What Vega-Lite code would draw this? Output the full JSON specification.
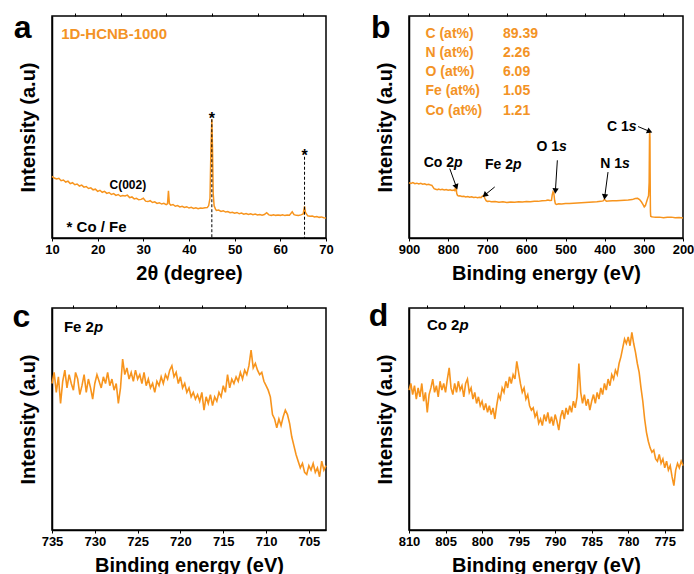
{
"$schema": "https://vega.github.io/schema/vega-lite/v6.json",
"background": "white",
"padding": {"left": 11, "top": 11, "right": 10, "bottom": 5},
"columns": 2,
"spacing": {"row": 70, "column": 83},
"bounds": "flush",
"datasets": {
"one": [{}],
"xrd": [
{"x":10,"y":27.8},{"x":10.5,"y":27.0},{"x":11,"y":26.6},{"x":11.5,"y":26.9},{"x":12,"y":25.8},{"x":12.5,"y":26.1},{"x":13,"y":25.2},{"x":13.5,"y":25.6},{"x":14,"y":24.5},{"x":14.5,"y":24.9},{"x":15,"y":24.0},{"x":15.5,"y":24.3},{"x":16,"y":23.4},{"x":16.5,"y":23.8},{"x":17,"y":22.9},{"x":17.5,"y":23.2},{"x":18,"y":22.3},{"x":18.5,"y":22.6},{"x":19,"y":21.7},{"x":19.5,"y":22.0},{"x":20,"y":21.0},{"x":20.5,"y":21.5},{"x":21,"y":20.6},{"x":21.5,"y":21.0},{"x":22,"y":20.1},{"x":22.5,"y":20.5},{"x":23,"y":19.6},{"x":23.5,"y":20.0},{"x":24,"y":19.2},{"x":24.5,"y":19.6},{"x":25,"y":18.8},{"x":25.5,"y":19.1},{"x":26,"y":18.9},{"x":26.5,"y":19.3},{"x":27,"y":18.2},{"x":27.5,"y":18.5},{"x":28,"y":17.6},{"x":28.5,"y":17.9},{"x":29,"y":17.2},{"x":29.5,"y":17.4},{"x":30,"y":17.9},{"x":30.5,"y":16.6},{"x":31,"y":16.4},{"x":31.5,"y":16.8},{"x":32,"y":16.0},{"x":32.5,"y":16.3},{"x":33,"y":15.6},{"x":33.5,"y":15.9},{"x":34,"y":15.3},{"x":34.5,"y":15.6},{"x":35,"y":15.0},{"x":35.3,"y":15.4},{"x":35.5,"y":21.3},{"x":35.7,"y":15.6},{"x":36,"y":14.8},{"x":36.5,"y":15.1},{"x":37,"y":14.3},{"x":37.5,"y":14.6},{"x":38,"y":14.0},{"x":38.5,"y":14.3},{"x":39,"y":13.8},{"x":39.5,"y":14.1},{"x":40,"y":13.5},{"x":40.5,"y":13.8},{"x":41,"y":13.3},{"x":41.5,"y":13.6},{"x":42,"y":13.2},{"x":42.5,"y":13.5},{"x":43,"y":13.4},{"x":43.5,"y":13.6},{"x":44,"y":13.7},{"x":44.3,"y":14.5},{"x":44.6,"y":18},{"x":44.8,"y":40},{"x":45.0,"y":53.5},{"x":45.15,"y":40},{"x":45.3,"y":20},{"x":45.5,"y":14.5},{"x":45.8,"y":13.0},{"x":46,"y":12.4},{"x":46.5,"y":12.6},{"x":47,"y":12.0},{"x":47.5,"y":12.3},{"x":48,"y":11.7},{"x":48.5,"y":11.9},{"x":49,"y":11.4},{"x":49.5,"y":11.6},{"x":50,"y":11.2},{"x":50.5,"y":11.5},{"x":51,"y":10.9},{"x":51.5,"y":11.2},{"x":52,"y":10.7},{"x":52.5,"y":11.0},{"x":53,"y":10.6},{"x":53.5,"y":10.9},{"x":54,"y":10.5},{"x":54.5,"y":10.8},{"x":55,"y":10.4},{"x":55.5,"y":10.6},{"x":56,"y":10.3},{"x":56.5,"y":10.6},{"x":57,"y":11.4},{"x":57.5,"y":10.4},{"x":58,"y":10.2},{"x":58.5,"y":10.5},{"x":59,"y":10.2},{"x":59.5,"y":10.4},{"x":60,"y":10.2},{"x":60.5,"y":10.5},{"x":61,"y":10.1},{"x":61.5,"y":10.4},{"x":62,"y":10.3},{"x":62.6,"y":11.8},{"x":63,"y":10.5},{"x":63.5,"y":10.2},{"x":64,"y":10.1},{"x":64.5,"y":10.4},{"x":65,"y":10.8},{"x":65.15,"y":12.5},{"x":65.3,"y":14.2},{"x":65.5,"y":11.5},{"x":66,"y":10.0},{"x":66.5,"y":9.8},{"x":67,"y":9.9},{"x":67.5,"y":9.5},{"x":68,"y":9.7},{"x":68.5,"y":9.3},{"x":69,"y":9.5},{"x":69.5,"y":9.1},{"x":70,"y":9.0}
],
"survey": [
{"x":900,"y":24.9},{"x":895,"y":24.6},{"x":890,"y":25.0},{"x":885,"y":24.5},{"x":880,"y":24.7},{"x":875,"y":24.3},{"x":870,"y":24.6},{"x":865,"y":24.2},{"x":860,"y":24.4},{"x":855,"y":24.0},{"x":850,"y":24.2},{"x":845,"y":23.9},{"x":842,"y":23.8},{"x":839,"y":23.0},{"x":836,"y":22.2},{"x":832,"y":22.0},{"x":828,"y":21.8},{"x":824,"y":22.0},{"x":820,"y":21.7},{"x":815,"y":21.9},{"x":810,"y":21.6},{"x":805,"y":21.8},{"x":800,"y":21.5},{"x":795,"y":21.7},{"x":790,"y":21.4},{"x":786,"y":21.6},{"x":783,"y":21.3},{"x":781,"y":22.9},{"x":779.5,"y":22.5},{"x":778,"y":20.0},{"x":776,"y":19.2},{"x":773,"y":18.9},{"x":770,"y":19.0},{"x":765,"y":18.7},{"x":760,"y":18.8},{"x":755,"y":18.5},{"x":750,"y":18.7},{"x":745,"y":18.4},{"x":740,"y":18.6},{"x":735,"y":18.3},{"x":730,"y":18.4},{"x":725,"y":18.1},{"x":720,"y":18.3},{"x":716,"y":18.2},{"x":712,"y":18.9},{"x":709,"y":19.0},{"x":706,"y":17.8},{"x":703,"y":16.8},{"x":700,"y":16.5},{"x":695,"y":16.6},{"x":690,"y":16.3},{"x":680,"y":16.4},{"x":670,"y":16.1},{"x":660,"y":16.3},{"x":650,"y":16.0},{"x":640,"y":16.2},{"x":630,"y":16.1},{"x":620,"y":16.3},{"x":610,"y":16.2},{"x":600,"y":16.4},{"x":590,"y":16.3},{"x":580,"y":16.6},{"x":570,"y":16.5},{"x":560,"y":16.8},{"x":550,"y":16.9},{"x":545,"y":17.1},{"x":540,"y":16.9},{"x":536,"y":17.0},{"x":534,"y":19.5},{"x":532,"y":20.8},{"x":530,"y":20.3},{"x":528,"y":17.0},{"x":526,"y":15.4},{"x":523,"y":15.1},{"x":518,"y":15.4},{"x":510,"y":15.3},{"x":500,"y":15.5},{"x":490,"y":15.5},{"x":480,"y":15.7},{"x":470,"y":15.8},{"x":460,"y":15.9},{"x":450,"y":16.0},{"x":440,"y":16.1},{"x":430,"y":16.2},{"x":420,"y":16.3},{"x":410,"y":16.5},{"x":404,"y":16.7},{"x":401,"y":17.4},{"x":399,"y":17.1},{"x":396,"y":16.6},{"x":390,"y":16.7},{"x":380,"y":16.8},{"x":370,"y":16.8},{"x":360,"y":16.9},{"x":350,"y":17.0},{"x":340,"y":17.1},{"x":330,"y":17.3},{"x":322,"y":17.8},{"x":316,"y":17.9},{"x":311,"y":17.3},{"x":306,"y":16.2},{"x":302,"y":15.0},{"x":299,"y":14.0},{"x":296,"y":14.6},{"x":293,"y":16.3},{"x":290,"y":18.0},{"x":288,"y":19.0},{"x":286.5,"y":25},{"x":285.5,"y":46},{"x":285,"y":48.2},{"x":284.4,"y":45},{"x":284,"y":30},{"x":283.6,"y":20},{"x":283.2,"y":12},{"x":282.5,"y":9.8},{"x":280,"y":9.6},{"x":275,"y":9.4},{"x":270,"y":9.3},{"x":260,"y":9.4},{"x":250,"y":9.1},{"x":240,"y":9.3},{"x":230,"y":9.4},{"x":220,"y":9.1},{"x":210,"y":9.2},{"x":200,"y":9.0}
],
"fe": [
{"x":735.0,"y":66},{"x":734.75,"y":71},{"x":734.5,"y":62},{"x":734.25,"y":69},{"x":734.0,"y":57},{"x":733.75,"y":67},{"x":733.5,"y":72},{"x":733.25,"y":64},{"x":733.0,"y":70},{"x":732.75,"y":66},{"x":732.5,"y":63},{"x":732.25,"y":71},{"x":732.0,"y":68},{"x":731.75,"y":61},{"x":731.5,"y":65},{"x":731.25,"y":70},{"x":731.0,"y":62},{"x":730.75,"y":68},{"x":730.5,"y":64},{"x":730.25,"y":59},{"x":730.0,"y":66},{"x":729.75,"y":70},{"x":729.5,"y":67},{"x":729.25,"y":64},{"x":729.0,"y":69},{"x":728.75,"y":66},{"x":728.5,"y":71},{"x":728.25,"y":65},{"x":728.0,"y":68},{"x":727.75,"y":63},{"x":727.5,"y":66},{"x":727.25,"y":57},{"x":727.0,"y":64},{"x":726.75,"y":77},{"x":726.5,"y":70},{"x":726.25,"y":73},{"x":726.0,"y":68},{"x":725.75,"y":71},{"x":725.5,"y":67},{"x":725.25,"y":72},{"x":725.0,"y":68},{"x":724.75,"y":70},{"x":724.5,"y":66},{"x":724.25,"y":71},{"x":724.0,"y":65},{"x":723.75,"y":68},{"x":723.5,"y":64},{"x":723.25,"y":66},{"x":723.0,"y":62},{"x":722.75,"y":67},{"x":722.5,"y":65},{"x":722.25,"y":69},{"x":722.0,"y":66},{"x":721.75,"y":70},{"x":721.5,"y":68},{"x":721.25,"y":72},{"x":721.0,"y":74},{"x":720.75,"y":69},{"x":720.5,"y":71},{"x":720.25,"y":66},{"x":720.0,"y":69},{"x":719.75,"y":64},{"x":719.5,"y":66},{"x":719.25,"y":62},{"x":719.0,"y":64},{"x":718.75,"y":60},{"x":718.5,"y":62},{"x":718.25,"y":59},{"x":718.0,"y":61},{"x":717.75,"y":58},{"x":717.5,"y":62},{"x":717.25,"y":54},{"x":717.0,"y":60},{"x":716.75,"y":57},{"x":716.5,"y":61},{"x":716.25,"y":56},{"x":716.0,"y":60},{"x":715.75,"y":58},{"x":715.5,"y":62},{"x":715.25,"y":60},{"x":715.0,"y":65},{"x":714.75,"y":62},{"x":714.5,"y":70},{"x":714.25,"y":64},{"x":714.0,"y":68},{"x":713.75,"y":66},{"x":713.5,"y":69},{"x":713.25,"y":67},{"x":713.0,"y":71},{"x":712.75,"y":68},{"x":712.5,"y":72},{"x":712.25,"y":70},{"x":712.0,"y":74},{"x":711.75,"y":81},{"x":711.5,"y":73},{"x":711.25,"y":75},{"x":711.0,"y":72},{"x":710.75,"y":70},{"x":710.5,"y":71},{"x":710.25,"y":67},{"x":710.0,"y":65},{"x":709.75,"y":63},{"x":709.5,"y":60},{"x":709.25,"y":52},{"x":709.0,"y":50},{"x":708.75,"y":46},{"x":708.5,"y":50},{"x":708.25,"y":47},{"x":708.0,"y":51},{"x":707.75,"y":54},{"x":707.5,"y":52},{"x":707.25,"y":48},{"x":707.0,"y":42},{"x":706.75,"y":38},{"x":706.5,"y":34},{"x":706.25,"y":31},{"x":706.0,"y":28},{"x":705.75,"y":30},{"x":705.5,"y":26},{"x":705.25,"y":25},{"x":705.0,"y":29},{"x":704.75,"y":27},{"x":704.5,"y":30},{"x":704.25,"y":26},{"x":704.0,"y":28},{"x":703.75,"y":24},{"x":703.5,"y":31},{"x":703.25,"y":27},{"x":703.0,"y":29}
],
"co": [
{"x":810.0,"y":63},{"x":809.75,"y":66},{"x":809.5,"y":61},{"x":809.25,"y":65},{"x":809.0,"y":59},{"x":808.75,"y":64},{"x":808.5,"y":60},{"x":808.25,"y":66},{"x":808.0,"y":58},{"x":807.75,"y":62},{"x":807.5,"y":53},{"x":807.25,"y":61},{"x":807.0,"y":64},{"x":806.75,"y":68},{"x":806.5,"y":62},{"x":806.25,"y":65},{"x":806.0,"y":60},{"x":805.75,"y":67},{"x":805.5,"y":63},{"x":805.25,"y":66},{"x":805.0,"y":62},{"x":804.75,"y":68},{"x":804.5,"y":73},{"x":804.25,"y":64},{"x":804.0,"y":61},{"x":803.75,"y":66},{"x":803.5,"y":62},{"x":803.25,"y":67},{"x":803.0,"y":63},{"x":802.75,"y":65},{"x":802.5,"y":60},{"x":802.25,"y":66},{"x":802.0,"y":68},{"x":801.75,"y":62},{"x":801.5,"y":64},{"x":801.25,"y":59},{"x":801.0,"y":62},{"x":800.75,"y":57},{"x":800.5,"y":60},{"x":800.25,"y":56},{"x":800.0,"y":58},{"x":799.75,"y":54},{"x":799.5,"y":57},{"x":799.25,"y":53},{"x":799.0,"y":56},{"x":798.75,"y":52},{"x":798.5,"y":55},{"x":798.25,"y":50},{"x":798.0,"y":56},{"x":797.75,"y":61},{"x":797.5,"y":59},{"x":797.25,"y":64},{"x":797.0,"y":62},{"x":796.75,"y":67},{"x":796.5,"y":64},{"x":796.25,"y":69},{"x":796.0,"y":66},{"x":795.75,"y":70},{"x":795.5,"y":68},{"x":795.25,"y":76},{"x":795.0,"y":71},{"x":794.75,"y":66},{"x":794.5,"y":62},{"x":794.25,"y":64},{"x":794.0,"y":59},{"x":793.75,"y":61},{"x":793.5,"y":56},{"x":793.25,"y":54},{"x":793.0,"y":55},{"x":792.75,"y":51},{"x":792.5,"y":53},{"x":792.25,"y":48},{"x":792.0,"y":50},{"x":791.75,"y":47},{"x":791.5,"y":52},{"x":791.25,"y":49},{"x":791.0,"y":53},{"x":790.75,"y":48},{"x":790.5,"y":51},{"x":790.25,"y":47},{"x":790.0,"y":52},{"x":789.75,"y":49},{"x":789.5,"y":45},{"x":789.25,"y":51},{"x":789.0,"y":54},{"x":788.75,"y":50},{"x":788.5,"y":55},{"x":788.25,"y":52},{"x":788.0,"y":56},{"x":787.75,"y":53},{"x":787.5,"y":58},{"x":787.25,"y":55},{"x":787.0,"y":60},{"x":786.75,"y":75},{"x":786.5,"y":62},{"x":786.25,"y":57},{"x":786.0,"y":61},{"x":785.75,"y":56},{"x":785.5,"y":59},{"x":785.25,"y":54},{"x":785.0,"y":58},{"x":784.75,"y":61},{"x":784.5,"y":57},{"x":784.25,"y":62},{"x":784.0,"y":59},{"x":783.75,"y":64},{"x":783.5,"y":61},{"x":783.25,"y":66},{"x":783.0,"y":63},{"x":782.75,"y":68},{"x":782.5,"y":65},{"x":782.25,"y":70},{"x":782.0,"y":68},{"x":781.75,"y":72},{"x":781.5,"y":70},{"x":781.25,"y":75},{"x":781.0,"y":78},{"x":780.75,"y":82},{"x":780.5,"y":86},{"x":780.25,"y":84},{"x":780.0,"y":87},{"x":779.75,"y":83},{"x":779.5,"y":89},{"x":779.25,"y":84},{"x":779.0,"y":80},{"x":778.75,"y":75},{"x":778.5,"y":71},{"x":778.25,"y":64},{"x":778.0,"y":58},{"x":777.75,"y":50},{"x":777.5,"y":44},{"x":777.25,"y":40},{"x":777.0,"y":37},{"x":776.75,"y":35},{"x":776.5,"y":36},{"x":776.25,"y":32},{"x":776.0,"y":31},{"x":775.75,"y":34},{"x":775.5,"y":30},{"x":775.25,"y":32},{"x":775.0,"y":28},{"x":774.75,"y":31},{"x":774.5,"y":27},{"x":774.25,"y":29},{"x":774.0,"y":24},{"x":773.75,"y":20},{"x":773.5,"y":27},{"x":773.25,"y":30},{"x":773.0,"y":28},{"x":772.75,"y":31},{"x":772.5,"y":29}
],
"arrows": [
{"label":"Co","x1":796,"y1":31.3,"x2":779,"y2":23.0},
{"label":"Fe","x1":681,"y1":23.0,"x2":706.6,"y2":19.3},
{"label":"O","x1":521,"y1":35.0,"x2":526,"y2":21.2},
{"label":"N","x1":391.6,"y1":29.7,"x2":400,"y2":18.5},
{"label":"C","x1":314.9,"y1":50.2,"x2":285,"y2":48.0}
],
"peaks": [
{"pre":"Co 2","suf":"p","x":785.0,"y":33.9},
{"pre":"Fe 2","suf":"p","x":634.3,"y":32.7},
{"pre":"O 1","suf":"s","x":516.8,"y":40.9},
{"pre":"N 1","suf":"s","x":355.8,"y":33.5},
{"pre":"C 1","suf":"s","x":338.7,"y":50.2}
],
"comp": [
{"el":"C (at%)","val":"89.39","y":91.8},
{"el":"N (at%)","val":"2.26","y":83.3},
{"el":"O (at%)","val":"6.09","y":74.6},
{"el":"Fe (at%)","val":"1.05","y":66.1},
{"el":"Co (at%)","val":"1.21","y":57.4}
]
},
"concat": [
{
"width": 274, "height": 222,
"resolve": {"axis": {"x": "independent"}},
"layer": [
{"data": {"name": "xrd"}, "mark": {"type": "line", "color": "#F7941D", "strokeWidth": 1.5},
 "encoding": {
  "x": {"field": "x", "type": "quantitative", "scale": {"domain": [10, 70], "nice": false, "zero": false},
        "axis": {"title": "2θ (degree)", "values": [10,20,30,40,50,60,70]}},
  "y": {"field": "y", "type": "quantitative", "scale": {"domain": [0, 100], "nice": false}, "axis": {"title": "Intensity (a.u)"}}}},
{"data": {"values": [{"x": 45.0, "y": 53.5}, {"x": 65.3, "y": 36.6}]},
 "mark": {"type": "rule", "color": "black", "strokeWidth": 1, "strokeDash": [3, 2]},
 "encoding": {"x": {"field": "x", "type": "quantitative", "axis": null}, "y": {"field": "y", "type": "quantitative"}, "y2": {"datum": 0}}},
{"data": {"values": [{"x": 45.0, "s": 51.2}, {"x": 65.3, "s": 34.6}]},
 "mark": {"type": "text", "text": "*", "fontSize": 16, "color": "black", "align": "center", "baseline": "alphabetic"},
 "encoding": {"x": {"field": "x", "type": "quantitative", "axis": null}, "y": {"field": "s", "type": "quantitative"}}},
{"data": {"name": "one"}, "mark": {"type": "text", "text": "1D-HCNB-1000", "fontSize": 15, "color": "#F39325", "align": "left", "baseline": "middle"},
 "encoding": {"x": {"datum": 12, "type": "quantitative", "axis": null}, "y": {"datum": 91.9, "type": "quantitative"}}},
{"data": {"name": "one"}, "mark": {"type": "text", "text": "C(002)", "fontSize": 12, "color": "black", "align": "center", "baseline": "middle"},
 "encoding": {"x": {"datum": 26.6, "type": "quantitative", "axis": null}, "y": {"datum": 23.8, "type": "quantitative"}}},
{"data": {"name": "one"}, "mark": {"type": "text", "text": "* Co / Fe", "fontSize": 15, "color": "black", "align": "left", "baseline": "middle"},
 "encoding": {"x": {"datum": 13.2, "type": "quantitative", "axis": null}, "y": {"datum": 5.1, "type": "quantitative"}}},
{"data": {"name": "one"}, "mark": {"type": "text", "text": "a", "fontSize": 32, "color": "black", "align": "left", "baseline": "alphabetic"},
 "encoding": {"x": {"datum": 1.6, "type": "quantitative", "axis": {"values": [15,25,35,45,55,65], "labels": false, "title": null, "domain": false}}, "y": {"datum": 90.1, "type": "quantitative"}}}
]
},
{
"width": 274, "height": 222,
"resolve": {"axis": {"x": "independent"}},
"layer": [
{"data": {"name": "survey"}, "mark": {"type": "line", "color": "#F7941D", "strokeWidth": 1.5},
 "encoding": {
  "x": {"field": "x", "type": "quantitative", "scale": {"domain": [200, 900], "reverse": true, "nice": false, "zero": false},
        "axis": {"title": "Binding energy (eV)", "values": [200,300,400,500,600,700,800,900]}},
  "y": {"field": "y", "type": "quantitative", "scale": {"domain": [0, 100], "nice": false}, "axis": {"title": "Intensity (a.u)"}}}},
{"data": {"name": "arrows"}, "mark": {"type": "rule", "color": "black", "strokeWidth": 1},
 "encoding": {"x": {"field": "x1", "type": "quantitative", "axis": null}, "y": {"field": "y1", "type": "quantitative"}, "x2": {"field": "x2"}, "y2": {"field": "y2"}}},
{"data": {"name": "arrows"}, "transform": [{"filter": "datum.label === 'Co'"}],
 "mark": {"type": "point", "shape": "triangle-up", "filled": true, "color": "black", "opacity": 1, "size": 40, "angle": 160},
 "encoding": {"x": {"field": "x2", "type": "quantitative", "axis": null}, "y": {"field": "y2", "type": "quantitative"}}},
{"data": {"name": "arrows"}, "transform": [{"filter": "datum.label === 'Fe'"}],
 "mark": {"type": "point", "shape": "triangle-up", "filled": true, "color": "black", "opacity": 1, "size": 40, "angle": 230},
 "encoding": {"x": {"field": "x2", "type": "quantitative", "axis": null}, "y": {"field": "y2", "type": "quantitative"}}},
{"data": {"name": "arrows"}, "transform": [{"filter": "datum.label === 'O'"}],
 "mark": {"type": "point", "shape": "triangle-up", "filled": true, "color": "black", "opacity": 1, "size": 40, "angle": 184},
 "encoding": {"x": {"field": "x2", "type": "quantitative", "axis": null}, "y": {"field": "y2", "type": "quantitative"}}},
{"data": {"name": "arrows"}, "transform": [{"filter": "datum.label === 'N'"}],
 "mark": {"type": "point", "shape": "triangle-up", "filled": true, "color": "black", "opacity": 1, "size": 40, "angle": 187},
 "encoding": {"x": {"field": "x2", "type": "quantitative", "axis": null}, "y": {"field": "y2", "type": "quantitative"}}},
{"data": {"name": "arrows"}, "transform": [{"filter": "datum.label === 'C'"}],
 "mark": {"type": "point", "shape": "triangle-up", "filled": true, "color": "black", "opacity": 1, "size": 40, "angle": 113},
 "encoding": {"x": {"field": "x2", "type": "quantitative", "axis": null}, "y": {"field": "y2", "type": "quantitative"}}},
{"data": {"name": "peaks"}, "mark": {"type": "text", "fontSize": 14, "color": "black", "align": "right", "baseline": "middle"},
 "encoding": {"x": {"field": "x", "type": "quantitative", "axis": null}, "y": {"field": "y", "type": "quantitative"}, "text": {"field": "pre"}}},
{"data": {"name": "peaks"}, "mark": {"type": "text", "fontSize": 14, "fontStyle": "italic", "color": "black", "align": "left", "baseline": "middle"},
 "encoding": {"x": {"field": "x", "type": "quantitative", "axis": null}, "y": {"field": "y", "type": "quantitative"}, "text": {"field": "suf"}}},
{"data": {"name": "comp"}, "mark": {"type": "text", "fontSize": 14, "color": "#F39325", "align": "left", "baseline": "middle"},
 "encoding": {"x": {"datum": 858, "type": "quantitative", "axis": null}, "y": {"field": "y", "type": "quantitative"}, "text": {"field": "el"}}},
{"data": {"name": "comp"}, "mark": {"type": "text", "fontSize": 14, "color": "#F39325", "align": "left", "baseline": "middle"},
 "encoding": {"x": {"datum": 660, "type": "quantitative", "axis": null}, "y": {"field": "y", "type": "quantitative"}, "text": {"field": "val"}}},
{"data": {"name": "one"}, "mark": {"type": "text", "text": "b", "fontSize": 32, "color": "black", "align": "left", "baseline": "alphabetic"},
 "encoding": {"x": {"datum": 997, "type": "quantitative", "axis": {"values": [250,350,450,550,650,750,850], "labels": false, "title": null, "domain": false}}, "y": {"datum": 90.1, "type": "quantitative"}}}
]
},
{
"width": 274, "height": 222,
"resolve": {"axis": {"x": "independent"}},
"layer": [
{"data": {"name": "fe"}, "mark": {"type": "line", "color": "#F7941D", "strokeWidth": 1.6},
 "encoding": {
  "x": {"field": "x", "type": "quantitative", "scale": {"domain": [703, 735], "reverse": true, "nice": false, "zero": false},
        "axis": {"title": "Binding energy (eV)", "values": [705,710,715,720,725,730,735]}},
  "y": {"field": "y", "type": "quantitative", "scale": {"domain": [0, 100], "nice": false}, "axis": {"title": "Intensity (a.u)"}}}},
{"data": {"name": "one"}, "mark": {"type": "text", "text": "Fe 2", "fontSize": 15, "color": "black", "align": "right", "baseline": "middle"},
 "encoding": {"x": {"datum": 730.1, "type": "quantitative", "axis": null}, "y": {"datum": 91.4, "type": "quantitative"}}},
{"data": {"name": "one"}, "mark": {"type": "text", "text": "p", "fontSize": 15, "fontStyle": "italic", "color": "black", "align": "left", "baseline": "middle"},
 "encoding": {"x": {"datum": 730.1, "type": "quantitative", "axis": null}, "y": {"datum": 91.4, "type": "quantitative"}}},
{"data": {"name": "one"}, "mark": {"type": "text", "text": "c", "fontSize": 32, "color": "black", "align": "left", "baseline": "alphabetic"},
 "encoding": {"x": {"datum": 739.6, "type": "quantitative", "axis": {"values": [707.5,712.5,717.5,722.5,727.5,732.5], "labels": false, "title": null, "domain": false}}, "y": {"datum": 91.6, "type": "quantitative"}}}
]
},
{
"width": 274, "height": 222,
"resolve": {"axis": {"x": "independent"}},
"layer": [
{"data": {"name": "co"}, "mark": {"type": "line", "color": "#F7941D", "strokeWidth": 1.6},
 "encoding": {
  "x": {"field": "x", "type": "quantitative", "scale": {"domain": [772.5, 810], "reverse": true, "nice": false, "zero": false},
        "axis": {"title": "Binding energy (eV)", "values": [775,780,785,790,795,800,805,810]}},
  "y": {"field": "y", "type": "quantitative", "scale": {"domain": [0, 100], "nice": false}, "axis": {"title": "Intensity (a.u)"}}}},
{"data": {"name": "one"}, "mark": {"type": "text", "text": "Co 2", "fontSize": 15, "color": "black", "align": "right", "baseline": "middle"},
 "encoding": {"x": {"datum": 803.1, "type": "quantitative", "axis": null}, "y": {"datum": 92.3, "type": "quantitative"}}},
{"data": {"name": "one"}, "mark": {"type": "text", "text": "p", "fontSize": 15, "fontStyle": "italic", "color": "black", "align": "left", "baseline": "middle"},
 "encoding": {"x": {"datum": 803.1, "type": "quantitative", "axis": null}, "y": {"datum": 92.3, "type": "quantitative"}}},
{"data": {"name": "one"}, "mark": {"type": "text", "text": "d", "fontSize": 32, "color": "black", "align": "left", "baseline": "alphabetic"},
 "encoding": {"x": {"datum": 815.5, "type": "quantitative", "axis": {"values": [777.5,782.5,787.5,792.5,797.5,802.5,807.5], "labels": false, "title": null, "domain": false}}, "y": {"datum": 92.1, "type": "quantitative"}}}
]
}
],
"config": {
 "view": {"stroke": "black", "strokeWidth": 1.5},
 "axis": {"domainColor": "black", "domainWidth": 1.5, "grid": false, "labelFont": "Liberation Sans", "labelFontSize": 13, "labelFontWeight": "bold", "labelColor": "black", "labelPadding": 2, "titleFont": "Liberation Sans", "titleFontSize": 20, "titleFontWeight": "bold", "titleColor": "black", "tickColor": "black", "tickSize": 3, "tickWidth": 1},
 "axisX": {"titlePadding": 7, "labelOverlap": false, "labelFlush": false, "labelBound": false},
 "axisY": {"labels": false, "ticks": false, "titlePadding": 14},
 "text": {"font": "Liberation Sans", "fontWeight": "bold"}
}
}
